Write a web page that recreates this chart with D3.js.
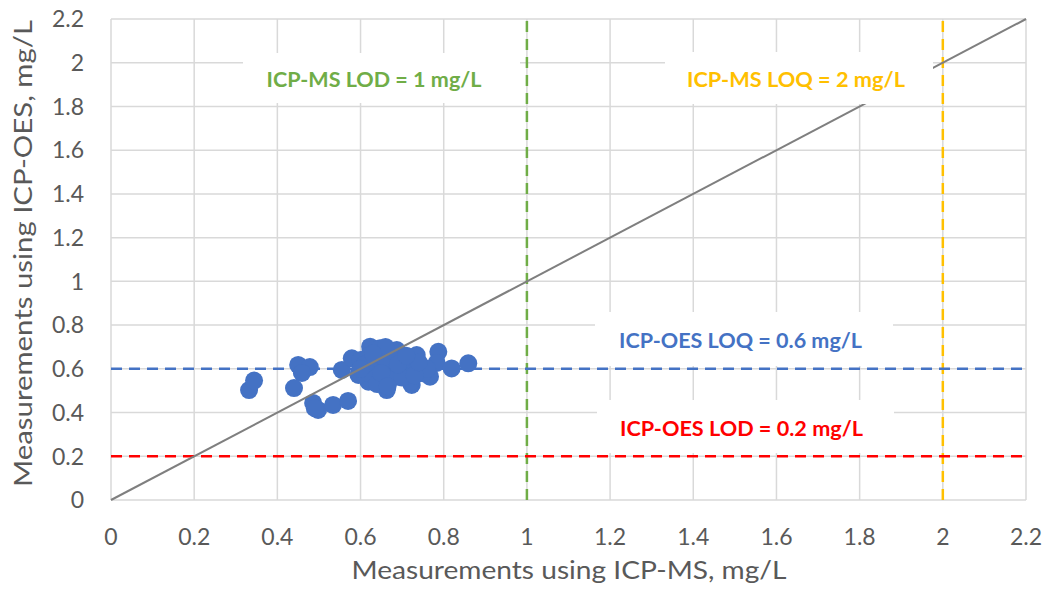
<!DOCTYPE html>
<html><head><meta charset="utf-8">
<script src="https://cdn.jsdelivr.net/npm/d3@7"></script>
<style>body{margin:0;background:#fff;}svg{display:block;font-family:Lato,"Open Sans",sans-serif;}</style>
</head><body>
<svg id="c" width="1048" height="597"></svg>
<script>
const xTicks = [0,0.2,0.4,0.6,0.8,1,1.2,1.4,1.6,1.8,2,2.2];
const yTicks = [0,0.2,0.4,0.6,0.8,1,1.2,1.4,1.6,1.8,2,2.2];
const tickLabels = ["0","0.2","0.4","0.6","0.8","1","1.2","1.4","1.6","1.8","2","2.2"];
// ICP-MS (x) and ICP-OES (y) measurements, mg/L
const msValues = [0.332,0.344,0.450,0.478,0.459,0.440,0.486,0.498,0.490,0.534,0.570,
  0.555,0.579,0.623,0.647,0.687,0.735,0.787,0.783,0.819,0.859,0.767,0.723,0.663,0.619,
  0.595,0.639,0.671,0.703,0.735,0.687,0.647,0.600,0.620,0.660,0.700,0.670,0.620,0.750,
  0.720,0.640,0.680,0.660,0.610,0.700,0.760,0.630,0.600,0.650,0.690,0.730,0.665,0.740,0.710];
const oesValues = [0.503,0.546,0.618,0.608,0.581,0.512,0.444,0.412,0.420,0.435,0.453,
  0.595,0.648,0.701,0.694,0.686,0.663,0.678,0.627,0.602,0.625,0.564,0.526,0.503,0.541,
  0.572,0.610,0.625,0.595,0.610,0.564,0.564,0.640,0.660,0.640,0.640,0.550,0.580,0.580,
  0.540,0.530,0.680,0.700,0.620,0.560,0.600,0.670,0.600,0.580,0.620,0.570,0.520,0.630,0.660];
const identityLine = [0,2.2];
const msLOD = 1, msLOQ = 2, oesLOQ = 0.6, oesLOD = 0.2;
const labels = ["ICP-MS LOD = 1 mg/L","ICP-MS LOQ = 2 mg/L","ICP-OES LOQ = 0.6 mg/L","ICP-OES LOD = 0.2 mg/L"];
const xTitle = "Measurements using ICP-MS, mg/L";
const yTitle = "Measurements using ICP-OES, mg/L";

const svg = d3.select("#c");
const x = d3.scaleLinear().domain([0,2.2]).range([111,1026]);
const y = d3.scaleLinear().domain([0,2.2]).range([500,19]);
const grid = "#d9d9d9";

// gridlines
svg.append("g").selectAll("line").data(xTicks).join("line")
  .attr("x1",d=>x(d)).attr("x2",d=>x(d)).attr("y1",y(0)).attr("y2",y(2.2))
  .attr("stroke",grid).attr("stroke-width",1.5);
svg.append("g").selectAll("line").data(yTicks).join("line")
  .attr("y1",d=>y(d)).attr("y2",d=>y(d)).attr("x1",x(0)).attr("x2",x(2.2))
  .attr("stroke",grid).attr("stroke-width",1.5);

// dashed reference lines
const dash = "11,7";
function vline(v,c){svg.append("line").attr("x1",x(v)).attr("x2",x(v)).attr("y1",y(0)).attr("y2",y(2.2))
  .attr("stroke",c).attr("stroke-width",2.5).attr("stroke-dasharray",dash);}
function hline(v,c){svg.append("line").attr("y1",y(v)).attr("y2",y(v)).attr("x1",x(0)).attr("x2",x(2.2))
  .attr("stroke",c).attr("stroke-width",2.5).attr("stroke-dasharray",dash);}
vline(msLOD,"#70ad47"); vline(msLOQ,"#ffc000");
hline(oesLOQ,"#4472c4"); hline(oesLOD,"#ff0000");

// points
svg.append("g").selectAll("circle").data(msValues.map((v,i)=>[v,oesValues[i]])).join("circle")
  .attr("cx",d=>x(d[0])).attr("cy",d=>y(d[1])).attr("r",9).attr("fill","#4472c4");

// identity line
svg.append("line").attr("x1",x(identityLine[0])).attr("y1",y(identityLine[0]))
  .attr("x2",x(identityLine[1])).attr("y2",y(identityLine[1]))
  .attr("stroke","#7f7f7f").attr("stroke-width",2);

// label boxes (white background)
const boxes = [[243,53,277,50],[665,52,268,52],[595,312,298,54],[597,400,297,53]];
svg.append("g").selectAll("rect").data(boxes).join("rect")
  .attr("x",d=>d[0]).attr("y",d=>d[1]).attr("width",d=>d[2]).attr("height",d=>d[3]).attr("fill","#fff");

// label texts
const lab = [[374,86.7,215,"#70ad47"],[796,86.7,218,"#ffc000"],[740.5,348,243,"#4472c4"],[741.5,436,243,"#ff0000"]];
svg.append("g").selectAll("text").data(labels).join("text")
  .attr("x",(d,i)=>lab[i][0]).attr("y",(d,i)=>lab[i][1]).attr("text-anchor","middle")
  .attr("font-weight","bold").attr("font-size",20).attr("fill",(d,i)=>lab[i][3])
  .attr("textLength",(d,i)=>lab[i][2]).attr("lengthAdjust","spacingAndGlyphs").text(d=>d);

// tick labels
svg.append("g").selectAll("text").data(xTicks).join("text")
  .attr("x",d=>x(d)).attr("y",545).attr("text-anchor","middle")
  .attr("font-size",23).attr("fill","#595959").text((d,i)=>tickLabels[i]);
svg.append("g").selectAll("text").data(yTicks).join("text")
  .attr("x",84).attr("y",d=>y(d)).attr("dy","0.36em").attr("text-anchor","end")
  .attr("font-size",23).attr("fill","#595959").text((d,i)=>tickLabels[i]);

// axis titles
svg.append("text").attr("x",569).attr("y",579).attr("text-anchor","middle")
  .attr("font-size",25).attr("fill","#595959").attr("textLength",435).attr("lengthAdjust","spacingAndGlyphs").text(xTitle);
svg.append("text").attr("transform","translate(32,253.5) rotate(-90)").attr("text-anchor","middle")
  .attr("font-size",25).attr("fill","#595959").attr("textLength",467).attr("lengthAdjust","spacingAndGlyphs").text(yTitle);
</script>
</body></html>
